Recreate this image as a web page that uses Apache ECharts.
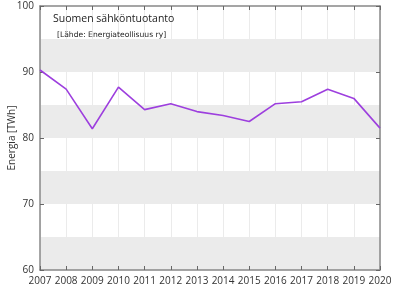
<!DOCTYPE html>
<html><head><meta charset="utf-8">
<script src="https://cdn.jsdelivr.net/npm/echarts@6/dist/echarts.min.js"></script>
<style>html,body{margin:0;padding:0;background:#fff}#c{width:400px;height:300px}</style>
</head><body><div id="c"></div>
<script>
const years = [2007,2008,2009,2010,2011,2012,2013,2014,2015,2016,2017,2018,2019,2020];
const energy = [90.3,87.4,81.4,87.7,84.3,85.2,84.0,83.4,82.5,85.2,85.5,87.4,86.0,81.5];
const yTicks = [60,70,80,90,100];
const titleText = 'Suomen sähköntuotanto';
const subText = '[Lähde: Energiateollisuus ry]';
const yName = 'Energia [TWh]';

const font = 'Open Sans';
const axisCol = '#888';
const chart = echarts.init(document.getElementById('c'), null, {renderer:'canvas'});
chart.setOption({
  animation:false,
  backgroundColor:'#fff',
  textStyle:{fontFamily:font},
  title:[
    {text:titleText, left:53, top:14, padding:0, textStyle:{fontSize:10.5, fontWeight:'normal', color:'#222', fontFamily:font}},
    {text:subText, left:57, top:31, padding:0, textStyle:{fontSize:7.6, fontWeight:'normal', color:'#222', fontFamily:'DejaVu Sans'}}
  ],
  grid:{left:40, right:20, top:6, bottom:30, containLabel:false, outerBoundsMode:'none'},
  xAxis:[
    {type:'value', min:years[0], max:years[years.length-1], interval:1, position:'bottom',
     axisLine:{lineStyle:{color:axisCol, width:1.5}},
     axisTick:{inside:true, length:4, lineStyle:{color:'#666'}},
     axisLabel:{color:'#333', fontSize:10, margin:6, formatter:v=>String(v)},
     splitLine:{show:true, lineStyle:{color:'#ebebeb', width:1}}},
    {type:'value', min:years[0], max:years[years.length-1], interval:1, position:'top',
     axisLine:{lineStyle:{color:axisCol, width:1.5}},
     axisTick:{inside:true, length:4, lineStyle:{color:'#666'}},
     axisLabel:{show:false}, splitLine:{show:false}}
  ],
  yAxis:[
    {type:'value', min:yTicks[0], max:yTicks[yTicks.length-1], interval:10, position:'left',
     name:yName, nameLocation:'middle', nameGap:23, nameMoveOverlap:false,
     nameTextStyle:{fontSize:10, color:'#333'},
     axisLine:{show:true, lineStyle:{color:axisCol, width:1.5}},
     axisTick:{show:true, inside:true, length:4, lineStyle:{color:'#666'}},
     axisLabel:{color:'#333', fontSize:10, margin:6},
     splitLine:{show:false}},
    {type:'value', min:yTicks[0], max:yTicks[yTicks.length-1], interval:10, position:'right',
     axisLine:{show:true, lineStyle:{color:axisCol, width:1.5}},
     axisTick:{show:true, inside:true, length:4, lineStyle:{color:'#666'}},
     axisLabel:{show:false}, splitLine:{show:false}},
    {type:'value', min:60, max:100, interval:5, show:true, position:'left',
     axisLine:{show:false}, axisTick:{show:false}, axisLabel:{show:false},
     splitLine:{show:false},
     splitArea:{show:true, areaStyle:{color:['#ebebeb','#ffffff']}}}
  ],
  series:[{
    type:'line', xAxisIndex:0, yAxisIndex:0,
    data: years.map((y,i)=>[y, energy[i]]),
    showSymbol:false, symbol:'none',
    lineStyle:{color:'#9d3fde', width:1.6},
    z:5
  }]
});
</script></body></html>
